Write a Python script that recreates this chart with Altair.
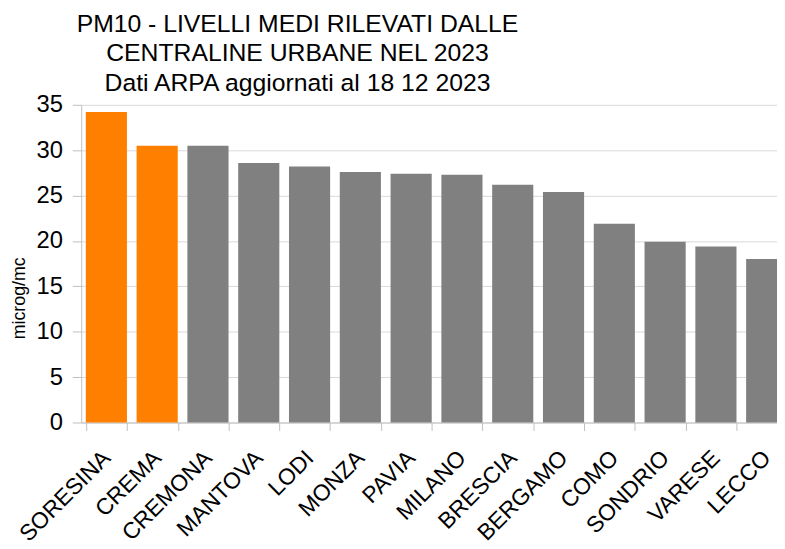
import altair as alt
import pandas as pd

cities = ["SORESINA", "CREMA", "CREMONA", "MANTOVA", "LODI", "MONZA", "PAVIA",
          "MILANO", "BRESCIA", "BERGAMO", "COMO", "SONDRIO", "VARESE", "LECCO"]
values = [34.2, 30.5, 30.5, 28.6, 28.2, 27.6, 27.4, 27.3, 26.2, 25.4, 21.9, 19.9, 19.4, 18.0]
groups = ["evid", "evid"] + ["altro"] * 12
y_ticks = [0, 5, 10, 15, 20, 25, 30, 35]

df = pd.DataFrame({"city": cities, "value": values, "group": groups})

FONT = "Liberation Sans"

chart = alt.Chart(df).mark_bar().encode(
    x=alt.X("city:N", sort=cities,
            scale=alt.Scale(paddingInner=0.19, paddingOuter=0.09, range=[0, 718]),
            axis=alt.Axis(title=None, labelAngle=-45, labelAlign="right",
                          labelBaseline="middle", labelPadding=24, labelFontSize=23,
                          labelFont=FONT, labelColor="#000000",
                          tickBand="extent", tickSize=8, tickColor="#bfbfbf",
                          domainColor="#bfbfbf", labelOverlap=False)),
    y=alt.Y("value:Q", scale=alt.Scale(domain=[0, 35], nice=False),
            axis=alt.Axis(title="microg/mc", values=y_ticks, labelFontSize=24,
                          labelFont=FONT, labelColor="#000000", labelPadding=10,
                          tickSize=9, tickColor="#bfbfbf", domainColor="#bfbfbf",
                          gridColor="#d9d9d9", titleFont=FONT, titleFontSize=18,
                          titleFontWeight="normal", titleColor="#000000",
                          titleX=-62, titleY=195, titleAngle=-90,
                          titleAlign="center", titleBaseline="middle")),
    color=alt.Color("group:N", scale=alt.Scale(domain=["evid", "altro"],
                                                range=["#ff8000", "#808080"]),
                    legend=None),
).properties(
    width=703, height=321,
    title=alt.Title(["PM10 - LIVELLI MEDI RILEVATI DALLE",
                     "CENTRALINE URBANE NEL 2023",
                     "Dati ARPA aggiornati al 18 12 2023"],
                    font=FONT, fontSize=25, fontWeight="normal", color="#000000",
                    anchor="middle", dx=-133, offset=-3, lineHeight=30),
    autosize=alt.AutoSizeParams(type="none"),
    padding={"left": 74, "top": 95, "right": 0, "bottom": 125},
).configure_view(stroke=None)

chart.save("out.html", embed_options={"renderer": "svg", "actions": False})
